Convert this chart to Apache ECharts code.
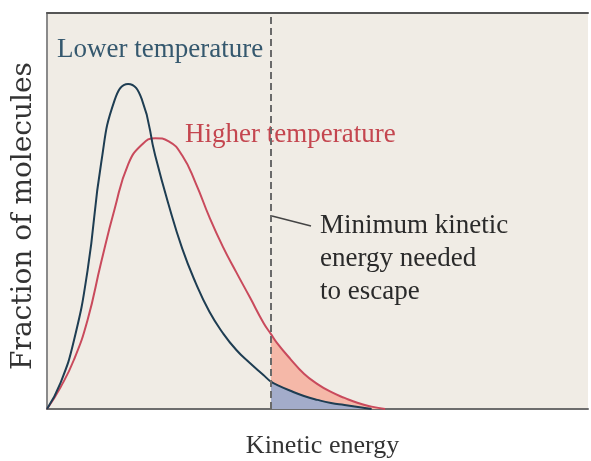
<!DOCTYPE html>
<html>
<head>
<meta charset="utf-8">
<script src="https://cdn.jsdelivr.net/npm/echarts@6/dist/echarts.min.js"></script>
<style>
  html, body { margin: 0; padding: 0; background: #fff; }
  #chart { width: 591px; height: 461px; }
</style>
</head>
<body>
<div id="chart"></div>
<script>
// kinetic energy (arbitrary units, 0..10) vs fraction of molecules (0..100)
var lowerTemp = [
  [0, 0], [0.25, 6.6], [0.5, 17.4], [0.75, 35], [1, 62], [1.25, 78],
  [1.5, 82.1], [1.75, 78.3], [2, 64], [2.25, 51.5], [2.5, 40.5],
  [2.75, 31.8], [3, 24.6], [3.25, 19.2], [3.5, 14.9], [3.75, 11.6],
  [4, 8.6], [4.14, 6.9], [4.25, 6.1], [4.5, 4.6], [4.75, 3.3], [5, 2.3],
  [5.25, 1.5], [5.5, 1], [5.75, 0.5], [6, 0]
];
var higherTemp = [
  [0, 0], [0.25, 5.5], [0.5, 12.5], [0.75, 22.5], [1, 37], [1.25, 50.5],
  [1.5, 61.8], [1.75, 66.7], [2, 68.4], [2.25, 67.6], [2.5, 64],
  [2.75, 57], [3, 48.5], [3.25, 41], [3.5, 34.5], [3.75, 28.2],
  [4, 21.8], [4.14, 18.9], [4.25, 16.7], [4.5, 12.6], [4.75, 8.9],
  [5, 6.3], [5.25, 4.3], [5.5, 2.8], [5.75, 1.5], [6, 0.6], [6.25, 0]
];
var escapeEnergy = 4.14;

var chart = echarts.init(document.getElementById('chart'));
var serif = 'Liberation Serif';

function tail(arr) {
  return arr.filter(function (p) { return p[0] >= escapeEnergy; });
}

var option = {
  backgroundColor: '#ffffff',
  animation: false,
  grid: {
    left: 47, right: 3, top: 13, bottom: 52,
    outerBoundsMode: 'none', containLabel: false,
    show: true, backgroundColor: '#f0ece5', borderWidth: 0
  },
  xAxis: [{
    type: 'value', min: 0, max: 10,
    axisLine: { show: true, lineStyle: { color: '#6d6d6d', width: 2 } },
    axisTick: { show: false }, axisLabel: { show: false }, splitLine: { show: false },
    name: 'Kinetic energy', nameLocation: 'middle', nameGap: 24,
    nameTextStyle: { fontFamily: serif, fontSize: 26, color: '#333', padding: [0, 0, 0, 10] }
  }, {
    type: 'value', min: 0, max: 10, position: 'top',
    axisLine: { show: true, lineStyle: { color: '#555', width: 2 } },
    axisTick: { show: false }, axisLabel: { show: false }, splitLine: { show: false }
  }],
  yAxis: {
    type: 'value', min: 0, max: 100,
    axisLine: { show: true, lineStyle: { color: '#8a8a8a', width: 2 } },
    axisTick: { show: false }, axisLabel: { show: false }, splitLine: { show: false }
  },
  series: [
    {
      type: 'line', data: tail(higherTemp), smooth: 0.5, symbol: 'none',
      lineStyle: { width: 0 }, areaStyle: { color: '#f5b8a8', opacity: 1 }, z: 1
    },
    {
      type: 'line', data: tail(lowerTemp), smooth: 0.5, symbol: 'none',
      lineStyle: { width: 0 }, areaStyle: { color: '#a3acca', opacity: 1 }, z: 2
    },
    {
      name: 'Higher temperature', type: 'line', data: higherTemp, smooth: 0.5,
      symbol: 'none', lineStyle: { color: '#c94a5c', width: 2 }, z: 3
    },
    {
      name: 'Lower temperature', type: 'line', data: lowerTemp, smooth: 0.5,
      symbol: 'none', lineStyle: { color: '#1e3d52', width: 2 }, z: 4,
      markLine: {
        silent: true, symbol: 'none', label: { show: false },
        lineStyle: { color: '#6a6a6a', type: [7, 4], width: 2 },
        data: [{ xAxis: escapeEnergy }]
      }
    }
  ],
  graphic: [
    // y axis title
    { type: 'text', x: 24, y: 216, rotation: Math.PI / 2,
      style: { text: 'Fraction of molecules', font: '28px "DejaVu Serif"', fill: '#333', align: 'center', verticalAlign: 'middle' } },
    { type: 'text', left: 57, top: 36, style: { text: 'Lower temperature', font: '27px "Liberation Serif"', fill: '#35586e' } },
    { type: 'text', left: 185, top: 121, style: { text: 'Higher temperature', font: '27px "Liberation Serif"', fill: '#c4464f' } },
    { type: 'line', shape: { x1: 272, y1: 216, x2: 311, y2: 226 }, style: { stroke: '#444', lineWidth: 1.5 } },
    { type: 'text', left: 320, top: 209, style: { text: 'Minimum kinetic\nenergy needed\nto escape', font: '27px "Liberation Serif"', fill: '#2a2a2a', lineHeight: 33 } }
  ]
};

chart.setOption(option);
</script>
</body>
</html>
